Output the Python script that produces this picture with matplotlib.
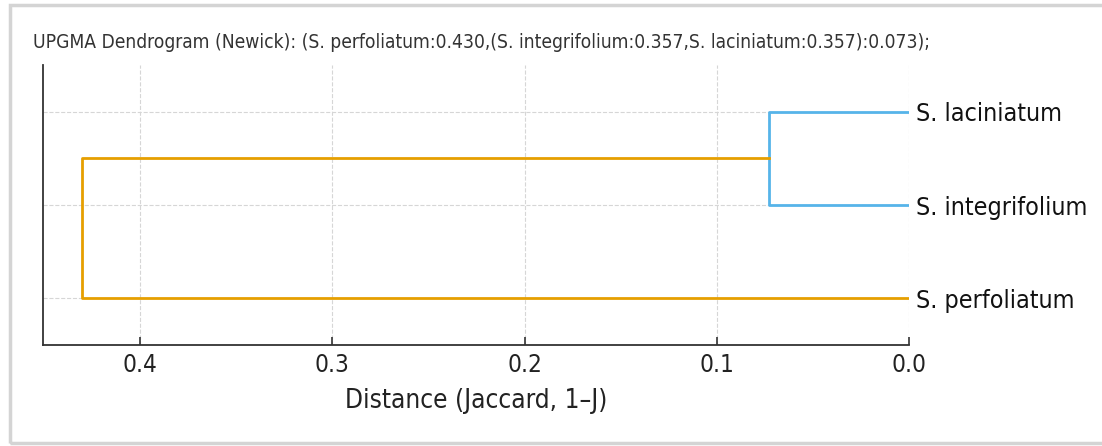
import matplotlib.pyplot as plt
from matplotlib.patches import Rectangle

# leaves, bottom to top
leaves = ["S. perfoliatum", "S. integrifolium", "S. laciniatum"]
# merge heights (UPGMA distance)
inner_height = 0.073   # integrifolium + laciniatum
root_height = 0.430    # perfoliatum + (inner)
xticks = [0.4, 0.3, 0.2, 0.1, 0.0]
title = ("UPGMA Dendrogram (Newick): (S. perfoliatum:0.430,(S. integrifolium:0.357,"
         "S. laciniatum:0.357):0.073);")

orange = "#E69F00"
blue = "#56B4E9"

plt.rcParams['font.family'] = ['DejaVu Sans']
plt.rcParams['font.stretch'] = 'condensed'

fig = plt.figure(figsize=(11.02, 4.46), dpi=100)
ax = fig.add_axes([43 / 1102, 1 - 345 / 446, (909 - 43) / 1102, (345 - 65) / 446])

# leaf positions like scipy: 5, 15, 25
ypos = [5 + 10 * i for i in range(len(leaves))]
y_p, y_i, y_l = ypos
y_inner = (y_i + y_l) / 2

lw = 2.0
# inner cluster (blue)
ax.plot([0, inner_height, inner_height, 0], [y_l, y_l, y_i, y_i], color=blue, lw=lw)
# root (orange)
ax.plot([inner_height, root_height, root_height, 0], [y_inner, y_inner, y_p, y_p],
        color=orange, lw=lw)

ax.set_xlim(0.4505, 0.0)
ax.set_ylim(0, 10 * len(leaves))
ax.set_xticks(xticks)
ax.set_xticklabels([f"{t:.1f}" for t in xticks], fontsize=17.5, color='#222222')
ax.set_yticks(ypos)
ax.set_yticklabels(leaves, fontsize=18, color='#111111')
ax.yaxis.tick_right()
ax.tick_params(axis='y', length=0, pad=5)
ax.tick_params(axis='x', direction='in', length=6, width=1.2, color='#333333', pad=6)

ax.grid(True, linestyle='--', color='#d6d6d6', linewidth=0.8)
ax.set_axisbelow(True)
for s in ['top', 'right']:
    ax.spines[s].set_visible(False)
for s in ['left', 'bottom']:
    ax.spines[s].set_linewidth(1.3)
    ax.spines[s].set_color('#333333')

ax.set_xlabel("Distance (Jaccard, 1–J)", fontsize=18.8, labelpad=8, color='#222222')
fig.text(33 / 1102, 1 - 42 / 446, title, fontsize=13.8, va='center', ha='left',
         color='#333333')

# screenshot frame
fig.patches.append(Rectangle((10 / 1102, 1 - 443 / 446), 1.2, 438 / 446,
                             transform=fig.transFigure, fill=False,
                             edgecolor='#d4d4d4', lw=2.5))

fig.savefig("out.png", dpi=100)
